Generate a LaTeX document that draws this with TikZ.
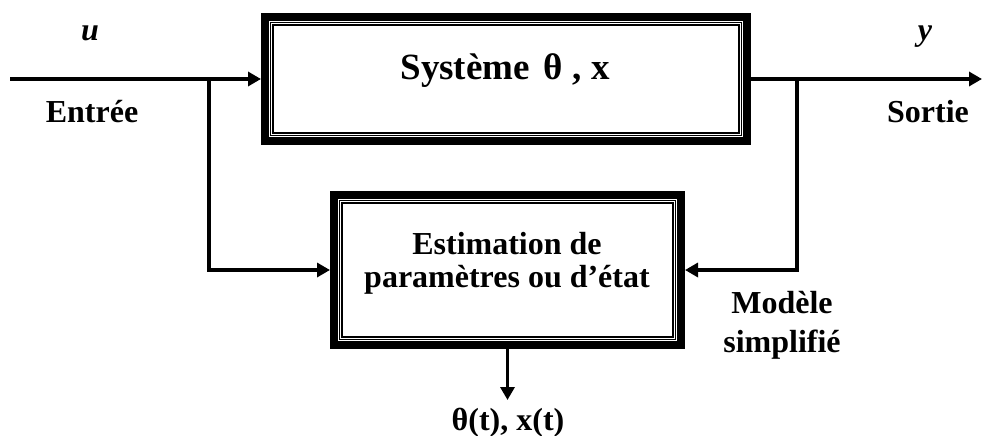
\documentclass[tikz,border=0pt]{standalone}
\usepackage{fontspec}
\setmainfont{Liberation Serif}
\usetikzlibrary{arrows.meta}
\newcommand\rimbox[1]{%
  \draw[thickrim] ([shift={(4,4)}]#1.north west) rectangle ([shift={(-4,-4)}]#1.south east);
  \draw[thinrim] ([shift={(9.5,9.5)}]#1.north west) rectangle ([shift={(-9.5,-9.5)}]#1.south east);
  \draw[midrim] ([shift={(12,12)}]#1.north west) rectangle ([shift={(-12,-12)}]#1.south east);
}
\begin{document}
\begin{tikzpicture}[x=1pt,y=-1pt,
  boxshape/.style={rectangle, inner sep=0pt, outer sep=0pt},
  lbl/.style={font=\fontsize{32}{38}\selectfont\bfseries, anchor=base, inner sep=0pt},
  ital/.style={font=\fontsize{32}{38}\selectfont\bfseries\itshape, anchor=base, inner sep=0pt},
  sig/.style={line width=3.8pt},
  sigarr/.style={sig, -{Triangle[length=13pt,width=14pt]}},
  thickrim/.style={line width=8pt},
  thinrim/.style={line width=0.9pt},
  midrim/.style={line width=1.6pt}]
\useasboundingbox (0,0) rectangle (982,436);

% boxes
\node[boxshape, minimum width=490pt, minimum height=132pt] (sys) at (506,79) {};
\node[boxshape, minimum width=355pt, minimum height=158pt] (est) at (507.5,270) {};
\rimbox{sys}
\rimbox{est}

% box texts
\node[lbl, font=\fontsize{37}{40}\selectfont\bfseries] (systxt) at (505,80) {Système\hspace{14pt}θ , x};
\node[lbl] (est1) at (507,254) {Estimation de};
\node[lbl] (est2) at (507,287) {paramètres ou d’état};

% coordinates
\coordinate (inbeg) at (10,79);
\coordinate (br1) at (209,79);
\coordinate (br2) at (797,79);
\coordinate (outend) at (982,79);
\coordinate (resend) at (507.5,400);

% connectors
\draw[sigarr] (inbeg) -- (sys.west);
\draw[sigarr] (br1) |- (est.west);
\draw[sigarr] (sys.east) -- (outend);
\draw[sigarr] (br2) |- (est.east);
\draw[sigarr] (est.south) -- (resend);

% labels
\node[ital] (ulbl) at (90,41) {u};
\node[ital] (ylbl) at (925,41) {y};
\node[lbl] (entree) at (92,122) {Entrée};
\node[lbl] (sortie) at (928,122) {Sortie};
\node[lbl] (mod1) at (782,313) {Modèle};
\node[lbl] (mod2) at (782,352) {simplifié};
\node[lbl] (res) at (508,430) {θ(t), x(t)};
\end{tikzpicture}
\end{document}
